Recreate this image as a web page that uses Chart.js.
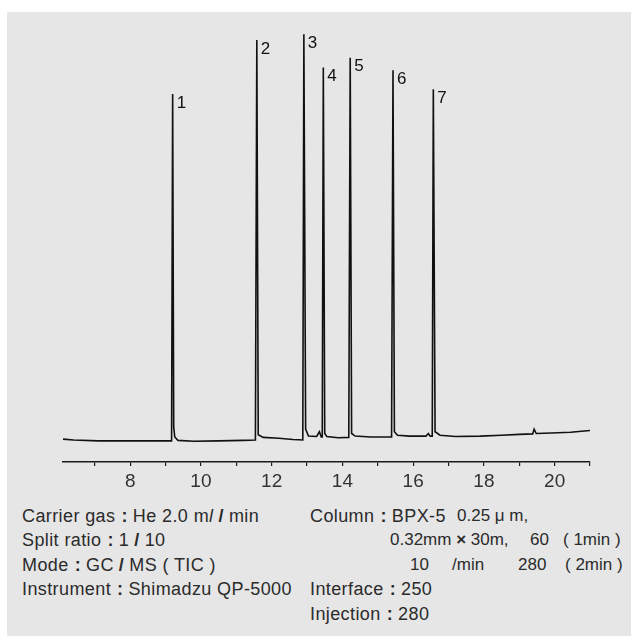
<!DOCTYPE html>
<html>
<head>
<meta charset="utf-8">
<script src="https://cdn.jsdelivr.net/npm/chart.js@4.4.1/dist/chart.umd.min.js"></script>
<style>
  html, body { margin: 0; padding: 0; background: #fff; }
  body { width: 631px; height: 636px; position: relative; overflow: hidden; }
  #panel { position: absolute; left: 7px; top: 12px; right: 0; bottom: 0; background: #e6e6e6; }
  #wrap { position: absolute; left: 0; top: 0; width: 631px; height: 500px; }
  .info, .t {
    position: absolute;
    font-family: "Liberation Sans", Arial, sans-serif;
    font-size: 18px; line-height: 24.5px; letter-spacing: 0.4px;
    color: #2b2b2b; white-space: pre;
  }
  .info { left: 22px; top: 503.5px; }
  .t.n { font-size: 17px; letter-spacing: 0; }
  .c { font-weight: bold; margin: 0 5px 0 6px; }
  .s { font-weight: bold; margin: 0 5px; }
</style>
</head>
<body>
<div id="panel"></div>
<div id="wrap"><canvas id="chartGC"></canvas></div>

<div class="info">Carrier gas<span class="c">:</span>He 2.0 m<i>l</i><span class="s">/</span>min
Split ratio<span class="c">:</span>1<span class="s">/</span>10
Mode<span class="c">:</span>GC<span class="s">/</span>MS ( TIC )
Instrument<span class="c">:</span>Shimadzu QP-5000</div>

<div class="t" style="left:310px;top:503.5px">Column<span class="c">:</span>BPX-5</div>
<div class="t n" style="left:457px;top:503.5px">0.25 μ m,</div>
<div class="t n" style="left:390px;top:528px">0.32mm <b>×</b> 30m,</div>
<div class="t n" style="left:530px;top:528px">60</div>
<div class="t n" style="left:563px;top:528px">( 1min )</div>
<div class="t n" style="left:410px;top:552.5px">10</div>
<div class="t n" style="left:452px;top:552.5px">/min</div>
<div class="t n" style="left:518px;top:552.5px">280</div>
<div class="t n" style="left:565px;top:552.5px">( 2min )</div>
<div class="t" style="left:310px;top:577px">Interface<span class="c">:</span>250</div>
<div class="t" style="left:310px;top:601.5px">Injection<span class="c">:</span>280</div>

<script>
// Cromatograma TIC (tiempo en min, señal relativa 0-100)
const traceTimes = [
  6.10, 6.40, 7.10, 8.00, 9.00, 9.17, 9.20, 9.23, 9.26, 9.35, 9.80, 10.50,
  11.20, 11.54, 11.58, 11.62, 11.76, 12.20, 12.60, 12.88, 12.91, 12.96, 13.04,
  13.27, 13.35, 13.40, 13.43, 13.46, 13.50, 13.56, 13.88, 14.18, 14.22, 14.26,
  14.36, 14.80, 15.39, 15.43, 15.47, 15.56, 15.90, 16.36, 16.43, 16.48, 16.54,
  16.57, 16.62, 16.76, 17.20, 17.90, 18.50, 19.00, 19.38, 19.42, 19.48, 19.90,
  20.45, 21.00
];
const traceSignal = [
  5.3, 5.1, 4.9, 4.9, 4.9, 4.9, 85.2, 8.0, 5.8, 5.0, 4.8, 4.9,
  5.0, 5.1, 97.7, 6.3, 5.7, 5.5, 5.2, 5.1, 99.0, 7.6, 6.0,
  5.9, 7.0, 5.8, 5.8, 91.3, 6.6, 5.9, 5.6, 5.7, 93.6, 6.6,
  6.0, 5.8, 5.8, 90.7, 7.0, 6.2, 6.0, 6.0, 6.6, 6.0, 6.0,
  86.3, 7.0, 6.2, 5.9, 6.0, 6.2, 6.4, 6.5, 7.6, 6.6, 6.7,
  6.9, 7.3
];

const peakNumbers = ['1', '2', '3', '4', '5', '6', '7'];
const peakTimes = [9.20, 11.58, 12.91, 13.46, 14.22, 15.43, 16.57];
const peakHeights = [85.2, 97.7, 99.0, 91.3, 93.6, 90.7, 86.3];

const tickLabels = [8, 10, 12, 14, 16, 18, 20];

const FONT = '"Liberation Sans", Arial, sans-serif';

// Números de pico junto a cada máximo
const peakLabels = {
  id: 'peakLabels',
  afterDatasetsDraw(chart) {
    const { ctx, scales } = chart;
    ctx.save();
    ctx.font = '17px ' + FONT;
    ctx.fillStyle = '#111';
    ctx.textAlign = 'left';
    ctx.textBaseline = 'middle';
    peakNumbers.forEach((n, i) => {
      const x = scales.x.getPixelForValue(peakTimes[i]);
      const y = scales.y.getPixelForValue(peakHeights[i]);
      ctx.fillText(n, x + 4, y + 9);
    });
    ctx.restore();
  }
};

const ctx = document.getElementById('chartGC');
new Chart(ctx, {
  type: 'line',
  data: {
    datasets: [{
      data: traceTimes.map((t, i) => ({ x: t, y: traceSignal[i] })),
      borderColor: '#111',
      borderWidth: 1.6,
      pointRadius: 0,
      tension: 0,
      fill: false
    }]
  },
  options: {
    responsive: true,
    maintainAspectRatio: false,
    animation: false,
    layout: { padding: { left: 63, right: 41, top: 30, bottom: 0 } },
    plugins: { legend: { display: false }, tooltip: { enabled: false } },
    scales: {
      x: {
        type: 'linear',
        min: 6.1,
        max: 21.0,
        afterFit: s => { s.height = 38; },
        border: { display: true, color: '#1a1a1a', width: 1.5 },
        grid: { drawOnChartArea: false, drawTicks: true, tickLength: 4, color: '#1a1a1a', lineWidth: 1.2 },
        ticks: {
          stepSize: 1,
          includeBounds: false,
          autoSkip: false,
          maxRotation: 0,
          padding: 4,
          color: '#333',
          font: { family: FONT, size: 19 },
          callback: v => tickLabels.includes(v) ? String(v) : ''
        }
      },
      y: { display: false, min: 0, max: 100 }
    }
  },
  plugins: [peakLabels]
});
</script>
</body>
</html>
